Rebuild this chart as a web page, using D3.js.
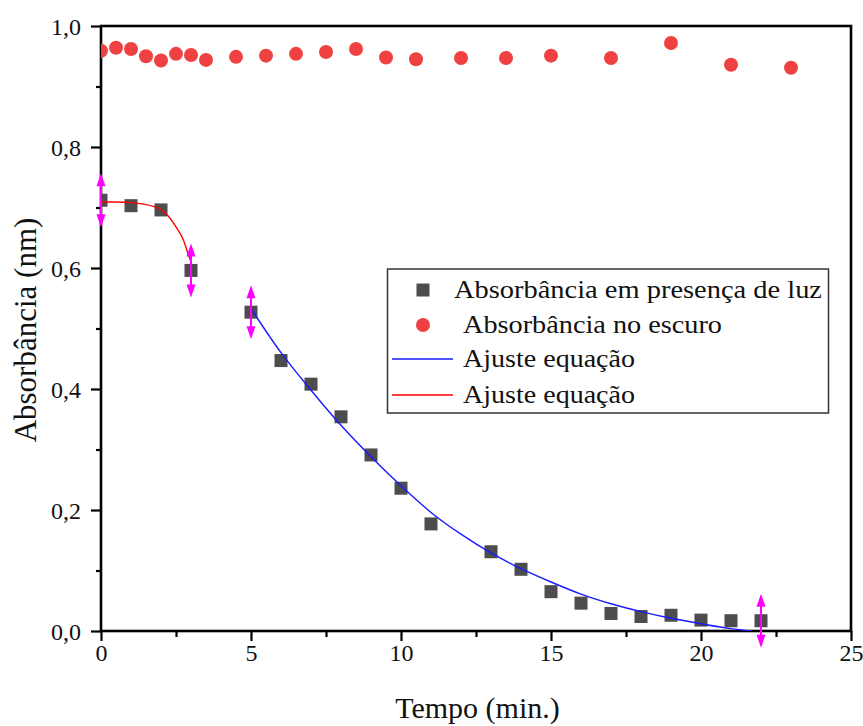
<!DOCTYPE html>
<html>
<head>
<meta charset="utf-8">
<script src="https://cdn.jsdelivr.net/npm/d3@7"></script>
<style>
  html, body { margin: 0; padding: 0; background: #fff; }
  svg { display: block; }
</style>
</head>
<body>
<svg id="chart" width="863" height="726"></svg>
<script>
// ---- data ----
const lightTime = [0, 1, 2, 3, 5, 6, 7, 8, 9, 10, 11, 13, 14, 15, 16, 17, 18, 19, 20, 21, 22];
const lightAbs  = [0.712, 0.703, 0.696, 0.596, 0.527, 0.447, 0.408, 0.354, 0.291, 0.236, 0.177, 0.131, 0.102, 0.065, 0.046, 0.029, 0.024, 0.026, 0.018, 0.017, 0.017];

const darkTime = [0, 0.5, 1, 1.5, 2, 2.5, 3, 3.5, 4.5, 5.5, 6.5, 7.5, 8.5, 9.5, 10.5, 12, 13.5, 15, 17, 19, 21, 23];
const darkAbs  = [0.959, 0.964, 0.962, 0.950, 0.943, 0.954, 0.952, 0.944, 0.949, 0.951, 0.954, 0.957, 0.962, 0.948, 0.945, 0.947, 0.947, 0.951, 0.947, 0.972, 0.936, 0.931];

const redFitTime = [0, 0.5, 1, 1.8, 2.2, 2.5, 2.75, 2.9, 3];
const redFitAbs  = [0.709, 0.709, 0.708, 0.701, 0.688, 0.668, 0.646, 0.624, 0.61];

const blueFitTime = [5, 6, 7, 8, 9, 10, 11, 12, 13, 14, 15, 16, 17, 18, 19, 20, 21, 21.7];
const blueFitAbs  = [0.533, 0.460, 0.398, 0.340, 0.288, 0.240, 0.196, 0.160, 0.129, 0.103, 0.081, 0.061, 0.045, 0.032, 0.021, 0.012, 0.004, 0.0];

const markerTime = [0, 3, 5, 22];   // fit range markers (magenta double arrows)

const xTicks = [0, 5, 10, 15, 20, 25];
const xMinorTicks = [2.5, 7.5, 12.5, 17.5, 22.5];
const yTicks = [0, 0.2, 0.4, 0.6, 0.8, 1.0];
const yMinorTicks = [0.1, 0.3, 0.5, 0.7, 0.9];

const legendLabels = ["Absorbância em presença de luz", "Absorbância no escuro", "Ajuste equação", "Ajuste equação"];
const xTitle = "Tempo (min.)";
const yTitle = "Absorbância (nm)";

// ---- layout ----
const FONT = "'Liberation Serif', 'Times New Roman', 'DejaVu Serif', serif";
const TXT = "#111";
const svg = d3.select("#chart").attr("font-family", FONT);
const L = 101, R = 851, T = 26, B = 631;
const x = d3.scaleLinear().domain([0, 25]).range([L, R]);
const y = d3.scaleLinear().domain([0, 1]).range([B, T]);
const fmt = d => d.toFixed(1).replace(".", ",");

svg.append("defs").append("clipPath").attr("id", "plotclip")
  .append("rect").attr("x", L).attr("y", T).attr("width", R - L).attr("height", B - T);

// axes
const axW = 2.6;
const gx = svg.append("g").attr("transform", `translate(0,${B})`)
  .call(d3.axisBottom(x).tickValues(xTicks).tickFormat(d => d).tickSize(10).tickSizeOuter(0));
const gxm = svg.append("g").attr("transform", `translate(0,${B})`)
  .call(d3.axisBottom(x).tickValues(xMinorTicks).tickFormat("").tickSize(6).tickSizeOuter(0));
const gy = svg.append("g").attr("transform", `translate(${L},0)`)
  .call(d3.axisLeft(y).tickValues(yTicks).tickFormat(fmt).tickSize(10).tickSizeOuter(0));
const gym = svg.append("g").attr("transform", `translate(${L},0)`)
  .call(d3.axisLeft(y).tickValues(yMinorTicks).tickFormat("").tickSize(5).tickSizeOuter(0));
[gx, gxm, gy, gym].forEach(g => {
  g.attr("font-family", FONT).attr("font-size", 24);
  g.select(".domain").remove();
  g.selectAll(".tick line").attr("stroke", "#000").attr("stroke-width", 2.2);
  g.selectAll(".tick text").attr("fill", TXT).attr("font-family", FONT).attr("font-size", 24);
});
gx.selectAll(".tick text").attr("y", 13).attr("dy", "0.71em");
gy.selectAll(".tick text").attr("x", -20).attr("dy", "0.34em");

// frame
svg.append("rect").attr("x", L).attr("y", T).attr("width", R - L).attr("height", B - T)
  .attr("fill", "none").attr("stroke", "#000").attr("stroke-width", axW);

const plot = svg.append("g").attr("clip-path", "url(#plotclip)");

// dark series: red circles
plot.selectAll("circle.dark").data(darkTime.map((t, i) => [t, darkAbs[i]])).join("circle")
  .attr("class", "dark").attr("cx", d => x(d[0])).attr("cy", d => y(d[1])).attr("r", 7)
  .attr("fill", "#ef4141");

// light series: dark squares
const sq = 13;
plot.selectAll("rect.light").data(lightTime.map((t, i) => [t, lightAbs[i]])).join("rect")
  .attr("class", "light").attr("x", d => x(d[0]) - sq / 2).attr("y", d => y(d[1]) - sq / 2)
  .attr("width", sq).attr("height", sq).attr("fill", "#4d4d4d");

// fit curves
const line = d3.line().x(d => x(d[0])).y(d => y(d[1])).curve(d3.curveMonotoneX);
plot.append("path").datum(redFitTime.map((t, i) => [t, redFitAbs[i]]))
  .attr("d", line).attr("fill", "none").attr("stroke", "#ff0000").attr("stroke-width", 1.4);
plot.append("path").datum(blueFitTime.map((t, i) => [t, blueFitAbs[i]]))
  .attr("d", line).attr("fill", "none").attr("stroke", "#1a1aff").attr("stroke-width", 1.4);

// range markers
const mag = "#ff00ff";
markerTime.forEach(t => {
  const idx = lightTime.indexOf(t);
  const cx = x(t), cy = y(lightAbs[idx]);
  const g = svg.append("g");
  g.append("line").attr("x1", cx).attr("x2", cx).attr("y1", cy - 22).attr("y2", cy + 22)
    .attr("stroke", mag).attr("stroke-width", 2);
  g.append("path").attr("d", `M${cx},${cy - 27} L${cx - 4.5},${cy - 14} L${cx + 4.5},${cy - 14} Z`).attr("fill", mag);
  g.append("path").attr("d", `M${cx},${cy + 27} L${cx - 4.5},${cy + 14} L${cx + 4.5},${cy + 14} Z`).attr("fill", mag);
});

// legend
const lg = svg.append("g");
lg.append("rect").attr("x", 387.5).attr("y", 269).attr("width", 441).attr("height", 144)
  .attr("fill", "#fff").attr("stroke", "#333").attr("stroke-width", 1.5);
const rowY = [290, 325, 359, 395];
const textX = [454, 463, 463, 463];
const textW = [368, 259, 172, 172];
lg.append("rect").attr("x", 423 - 6.5).attr("y", rowY[0] - 6.5).attr("width", 13).attr("height", 13).attr("fill", "#4d4d4d");
lg.append("circle").attr("cx", 423).attr("cy", rowY[1]).attr("r", 7).attr("fill", "#ef4141");
lg.append("line").attr("x1", 392).attr("x2", 453).attr("y1", rowY[2]).attr("y2", rowY[2]).attr("stroke", "#1a1aff").attr("stroke-width", 1.4);
lg.append("line").attr("x1", 392).attr("x2", 453).attr("y1", rowY[3]).attr("y2", rowY[3]).attr("stroke", "#ff0000").attr("stroke-width", 1.4);
legendLabels.forEach((s, i) => {
  lg.append("text").attr("x", textX[i]).attr("y", rowY[i] + 7.5)
    .attr("font-family", FONT).attr("font-size", 25).attr("fill", TXT)
    .attr("textLength", textW[i]).attr("lengthAdjust", "spacingAndGlyphs").text(s);
});

// axis titles
svg.append("text").attr("x", 477.5).attr("y", 718).attr("text-anchor", "middle")
  .attr("font-family", FONT).attr("font-size", 30).attr("fill", TXT).text(xTitle);
svg.append("text").attr("transform", "translate(36,330) rotate(-90)").attr("text-anchor", "middle")
  .attr("font-family", FONT).attr("font-size", 31).attr("fill", TXT).text(yTitle);
</script>
</body>
</html>
